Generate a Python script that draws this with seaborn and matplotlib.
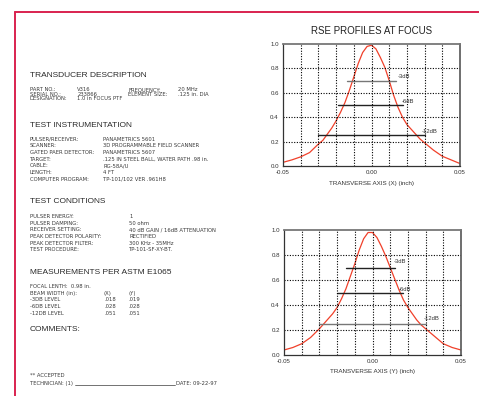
import matplotlib
matplotlib.use("Agg")
import matplotlib.pyplot as plt
import seaborn as sns
import pandas as pd
from matplotlib.ticker import MultipleLocator, FixedLocator

sns.set_theme(style="white")
plt.rcParams['font.family'] = ['Liberation Sans', 'DejaVu Sans']

W, H = 479, 396

# ---- profile data (transverse position in inch, normalized amplitude) ----
pos = [-0.05, -0.045, -0.04, -0.035, -0.03, -0.0275, -0.025, -0.0225, -0.02,
       -0.0175, -0.015, -0.0125, -0.01, -0.0075, -0.005, -0.0025, 0.0,
       0.0025, 0.005, 0.0075, 0.01, 0.0125, 0.015, 0.0175, 0.02, 0.0225,
       0.025, 0.0275, 0.03, 0.035, 0.04, 0.045, 0.05]
amp_x = [0.03, 0.05, 0.075, 0.11, 0.18, 0.21, 0.26, 0.31, 0.37,
         0.44, 0.52, 0.62, 0.73, 0.84, 0.93, 0.98, 0.99,
         0.96, 0.89, 0.81, 0.70, 0.58, 0.48, 0.40, 0.34, 0.30,
         0.26, 0.22, 0.19, 0.13, 0.08, 0.05, 0.02]
amp_y = [0.04, 0.06, 0.09, 0.14, 0.21, 0.25, 0.29, 0.33, 0.38,
         0.45, 0.53, 0.63, 0.73, 0.84, 0.93, 0.98, 0.98,
         0.94, 0.87, 0.79, 0.70, 0.61, 0.52, 0.44, 0.38, 0.33,
         0.28, 0.24, 0.21, 0.15, 0.09, 0.06, 0.04]

# dB level markers: label, level, start, end
db_labels = ["-3dB", "-6dB", "-12dB"]
db_levels = [0.7, 0.5, 0.25]
db_x_start = [-0.014, -0.0187, -0.030]
db_x_end = [0.014, 0.018, 0.030]
db_y_start = [-0.015, -0.0198, -0.030]
db_y_end = [0.0127, 0.017, 0.030]

yticks = [0.0, 0.2, 0.4, 0.6, 0.8, 1.0]
ytick_labels = ["0.0", "0.2", "0.4", "0.6", "0.8", "1.0"]
xticks = [-0.05, 0.0, 0.05]
xtick_labels = ["-0.05", "0.00", "0.05"]

fig = plt.figure(figsize=(W / 100, H / 100), dpi=100)
fig.patch.set_facecolor("white")

BORDER = "#d9234f"
TXT = "#3a3a3a"
BODY_FONT = ["DejaVu Sans"]


def fx(x):
    return x / W


def fy(y):
    return 1 - y / H


def put(x, y, s, size=3.8, family=None, **kw):
    fig.text(fx(x), fy(y), s, fontsize=size, color=kw.pop("color", TXT),
             va="center", ha=kw.pop("ha", "left"),
             family=family or BODY_FONT, **kw)


def head(x, y, s):
    put(x, y, s, 6.0, family=['Liberation Sans'], color="#2a2a2a")


# page frame
fig.add_artist(plt.Line2D([fx(15), 1.0], [fy(12), fy(12)], color=BORDER, lw=1.4))
fig.add_artist(plt.Line2D([fx(15), fx(15)], [fy(12), 0.0], color=BORDER, lw=1.4))

# ---- transducer description ----
head(30, 75.7, "TRANSDUCER DESCRIPTION")
rows = [("PART NO.:", "V316", "FREQUENCY:", "20 MHz"),
        ("SERIAL NO.:", "233866", "ELEMENT SIZE:", ".125 in. DIA"),
        ("DESIGNATION:", "1.0 in FOCUS PTF", "", "")]
for i, (a, b, c, d) in enumerate(rows):
    y = 89.6 + i * 4.7
    put(30, y, a)
    put(77.3, y, b)
    put(128.3, y, c)
    put(178.3, y, d)

# ---- test instrumentation ----
head(30, 125.7, "TEST INSTRUMENTATION")
instr = [("PULSER/RECEIVER:", "PANAMETRICS 5601"),
         ("SCANNER:", "3D PROGRAMMABLE FIELD SCANNER"),
         ("GATED PAER DETECTOR:", "PANAMETRICS 5607"),
         ("TARGET:", ".125 IN STEEL BALL, WATER PATH .98 in."),
         ("CABLE:", "RG-58A/U"),
         ("LENGTH:", "4 FT"),
         ("COMPUTER PROGRAM:", "TP-101/102 VER .961H8")]
for i, (a, b) in enumerate(instr):
    y = 139.3 + i * 6.67
    put(30, y, a)
    put(103.3, y, b)

# ---- test conditions ----
head(30, 202, "TEST CONDITIONS")
cond = [("PULSER ENERGY:", "1"),
        ("PULSER DAMPING:", "50 ohm"),
        ("RECEIVER SETTING:", "40 dB GAIN / 16dB ATTENUATION"),
        ("PEAK DETECTOR POLARITY:", "RECTIFIED"),
        ("PEAK DETECTOR FILTER:", "300 KHz - 35MHz"),
        ("TEST PROCEDURE:", "TP-101-SF-XY-BT.")]
for i, (a, b) in enumerate(cond):
    y = 216.3 + i * 6.74
    put(30, y, a)
    put(129, y, b)

# ---- measurements ----
head(30, 272.3, "MEASUREMENTS PER ASTM E1065")
put(30, 286.3, "FOCAL LENTH:  0.98 in.")
meas = [("BEAM WIDTH (in):", "(X)", "(Y)"),
        ("-3DB LEVEL", ".018", ".019"),
        ("-6DB LEVEL", ".028", ".028"),
        ("-12DB LEVEL", ".051", ".051")]
for i, (a, b, c) in enumerate(meas):
    y = 293 + i * 6.67
    put(30, y, a)
    put(104, y, b)
    put(128.3, y, c)

head(30, 329.3, "COMMENTS:")
put(30, 375.7, "** ACCEPTED")
put(30, 383.3, "TECHNICIAN: (1)")
fig.add_artist(plt.Line2D([fx(75), fx(175)], [fy(385.3), fy(385.3)],
                          color=TXT, lw=0.5))
put(175.7, 383.3, "DATE: 09-22-97")


def profile(rect, amp, xs, xe, line_colors, lbl_pos, xlabel, xlabel_y):
    ax = fig.add_axes(rect)
    df = pd.DataFrame({"pos": pos, "amp": amp})
    sns.lineplot(data=df, x="pos", y="amp", ax=ax, color="#f0402a", lw=0.9)
    for lvl, a, b, c in zip(db_levels, xs, xe, line_colors):
        ax.plot([a, b], [lvl, lvl], color=c, lw=1.0)
    for lab, (lx, ly) in zip(db_labels, lbl_pos):
        ax.text(lx, ly, lab, fontsize=4.2, color="#333333", va="center")
    ax.set_xlim(-0.05, 0.05)
    ax.set_ylim(0, 1.0)
    ax.xaxis.set_major_locator(FixedLocator(xticks))
    ax.set_xticklabels(xtick_labels)
    ax.yaxis.set_major_locator(FixedLocator(yticks))
    ax.set_yticklabels(ytick_labels)
    ax.yaxis.set_minor_locator(MultipleLocator(0.1))
    ax.tick_params(axis="both", which="major", length=0, labelsize=4.4,
                   labelcolor="#333333", pad=3)
    ax.tick_params(axis="y", which="minor", length=3.5, direction="in",
                   width=0.9, color="black")
    ax.set_xlabel("")
    ax.set_ylabel("")
    for v in [-0.04, -0.03, -0.02, -0.01, 0.0, 0.01, 0.02, 0.03, 0.04]:
        ax.axvline(v, color="black", lw=0.8, ls=(0, (1, 1.4)))
    for v in [0.2, 0.4, 0.6, 0.8]:
        ax.axhline(v, color="black", lw=0.8, ls=(0, (1, 1.4)))
    for s in ax.spines.values():
        s.set_visible(True)
        s.set_color("#333333")
        s.set_linewidth(0.9)
    ax.spines["top"].set_color("#777777")
    ax.spines["top"].set_linewidth(1.3)
    ax.spines["right"].set_color("#555555")
    ax.spines["right"].set_linewidth(1.2)
    cx = rect[0] + rect[2] / 2
    fig.text(cx, fy(xlabel_y), xlabel, fontsize=4.5, color="#333333",
             ha="center", va="center")
    return ax


ax1 = profile([fx(283), fy(166), (460 - 283) / W, (166 - 44) / H], amp_x,
              db_x_start, db_x_end, ["#777777", "#222222", "#222222"],
              [(0.0148, 0.735), (0.0168, 0.53), (0.0285, 0.285)],
              "TRANSVERSE AXIS (X) (inch)", 183.3)
fig.text(fx(371.5), fy(31), "RSE PROFILES AT FOCUS", fontsize=7.0,
         color="#222222", ha="center", va="center")

ax2 = profile([fx(284), fy(355), (461 - 284) / W, (355 - 230) / H], amp_y,
              db_y_start, db_y_end, ["#222222", "#222222", "#777777"],
              [(0.0118, 0.745), (0.0149, 0.525), (0.029, 0.29)],
              "TRANSVERSE AXIS (Y) (inch)", 371.7)

fig.savefig("out.png", dpi=100, facecolor="white")
